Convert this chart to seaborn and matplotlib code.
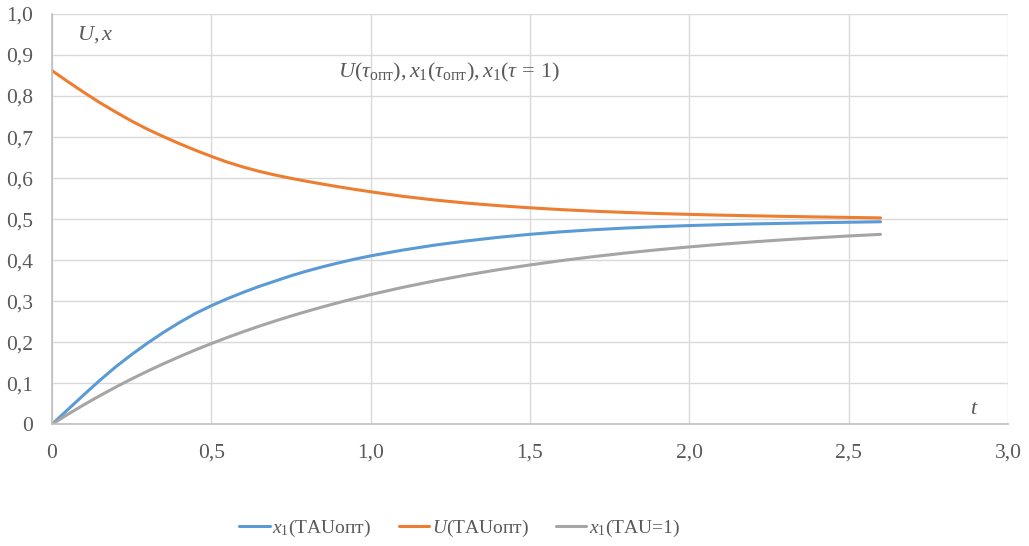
import numpy as np
import pandas as pd
import matplotlib
matplotlib.use("Agg")
import matplotlib.pyplot as plt
from matplotlib.lines import Line2D
import seaborn as sns

t = [0.00, 0.05, 0.10, 0.15, 0.20, 0.25, 0.30, 0.35, 0.40, 0.45, 0.50,
     0.55, 0.60, 0.65, 0.70, 0.75, 0.80, 0.85, 0.90, 0.95, 1.00,
     1.1, 1.2, 1.3, 1.4, 1.5, 1.6, 1.7, 1.8, 1.9, 2.0,
     2.1, 2.2, 2.3, 2.4, 2.5, 2.6]
x1_opt = [0.000, 0.036, 0.072, 0.107, 0.140, 0.170, 0.198, 0.224, 0.248, 0.270, 0.289,
          0.306, 0.3215, 0.336, 0.349, 0.362, 0.3735, 0.384, 0.3935, 0.4025, 0.4105,
          0.4245, 0.4366, 0.4468, 0.4556, 0.4630, 0.4692, 0.4742, 0.4783, 0.4816, 0.4843,
          0.4865, 0.4883, 0.4898, 0.4912, 0.4924, 0.4936]
u_opt = [0.862, 0.835, 0.809, 0.784, 0.761, 0.739, 0.719, 0.701, 0.684, 0.668, 0.653,
         0.639, 0.627, 0.6165, 0.6075, 0.5995, 0.5922, 0.5853, 0.5787, 0.5725, 0.5667,
         0.5557, 0.5467, 0.5392, 0.5329, 0.5276, 0.5231, 0.5194, 0.5163, 0.5137, 0.5116,
         0.5097, 0.5081, 0.5067, 0.5054, 0.5042, 0.5030]
x1_tau1 = [0.000, 0.0244, 0.0476, 0.0696, 0.0906, 0.1106, 0.1296, 0.1476, 0.1648, 0.1812, 0.1967,
           0.2115, 0.2256, 0.2390, 0.2517, 0.2638, 0.2753, 0.2863, 0.2967, 0.3067, 0.3161,
           0.3336, 0.3494, 0.3637, 0.3767, 0.3884, 0.3991, 0.4087, 0.4174, 0.4253, 0.4323,
           0.4388, 0.4446, 0.4499, 0.4546, 0.4590, 0.4629]

series_names = [r'$x_1$(TAUопт)', r'$U$(TAUопт)', r'$x_1$(TAU=1)']
colors = ['#5B9BD5', '#ED7D31', '#A5A5A5']
x_ticks = [0.0, 0.5, 1.0, 1.5, 2.0, 2.5, 3.0]
x_tick_labels = ['0', '0,5', '1,0', '1,5', '2,0', '2,5', '3,0']
y_ticks = [0.0, 0.1, 0.2, 0.3, 0.4, 0.5, 0.6, 0.7, 0.8, 0.9, 1.0]
y_tick_labels = ['0', '0,1', '0,2', '0,3', '0,4', '0,5', '0,6', '0,7', '0,8', '0,9', '1,0']

df = pd.concat([
    pd.DataFrame({'t': t, 'v': x1_opt, 's': series_names[0]}),
    pd.DataFrame({'t': t, 'v': u_opt, 's': series_names[1]}),
    pd.DataFrame({'t': t, 'v': x1_tau1, 's': series_names[2]}),
])

sns.set_style('white')
plt.rcParams['font.family'] = ['Liberation Serif', 'DejaVu Serif']
plt.rcParams['mathtext.fontset'] = 'custom'
plt.rcParams['mathtext.rm'] = 'Liberation Serif'
plt.rcParams['mathtext.it'] = 'Liberation Serif:italic'
plt.rcParams['mathtext.bf'] = 'Liberation Serif:bold'

txt = '#595959'
fig = plt.figure(figsize=(10.29, 5.46), dpi=100)
ax = fig.add_axes([0.0505, 0.2229, 0.9291, 0.7515])

sns.lineplot(data=df, x='t', y='v', hue='s', palette=dict(zip(series_names, colors)),
             hue_order=series_names, linewidth=2.2, ax=ax, legend=False, sort=False)

ax.set_xlim(0, 3.0)
ax.set_ylim(0, 1.0)
ax.set_xticks(x_ticks)
ax.set_xticklabels(x_tick_labels)
ax.set_yticks(y_ticks)
ax.set_yticklabels(y_tick_labels)
ax.tick_params(axis='both', labelsize=15.5, colors=txt, length=0)
ax.tick_params(axis='x', pad=14)
ax.tick_params(axis='y', pad=13.5)
ax.set_xlabel('')
ax.set_ylabel('')
ax.grid(True, color='#D9D9D9', linewidth=1.0)
ax.set_axisbelow(True)
for side in ['top', 'right']:
    ax.spines[side].set_visible(False)
for side in ['left', 'bottom']:
    ax.spines[side].set_color('#BFBFBF')
    ax.spines[side].set_linewidth(1.2)

ax.text(0.078, 0.951, r'$U, x$', fontsize=16, color=txt, va='center', ha='left')
ax.text(0.897, 0.858, r'$U(\tau_{\mathrm{опт}}), x_1(\tau_{\mathrm{опт}}), x_1(\tau\,=\,1)$',
        fontsize=16, color=txt, va='center', ha='left')
ax.text(2.88, 0.035, r'$t$', fontsize=16, color=txt, va='center', ha='left')

handles = [Line2D([0], [0], color=c, linewidth=2.2) for c in colors]
fig.legend(handles, series_names, loc='center', bbox_to_anchor=(0.447, 0.033),
           ncol=3, frameon=False, fontsize=14, labelcolor=txt,
           handlelength=1.55, handletextpad=0.15, columnspacing=1.4)

fig.savefig('out.png', dpi=100)
